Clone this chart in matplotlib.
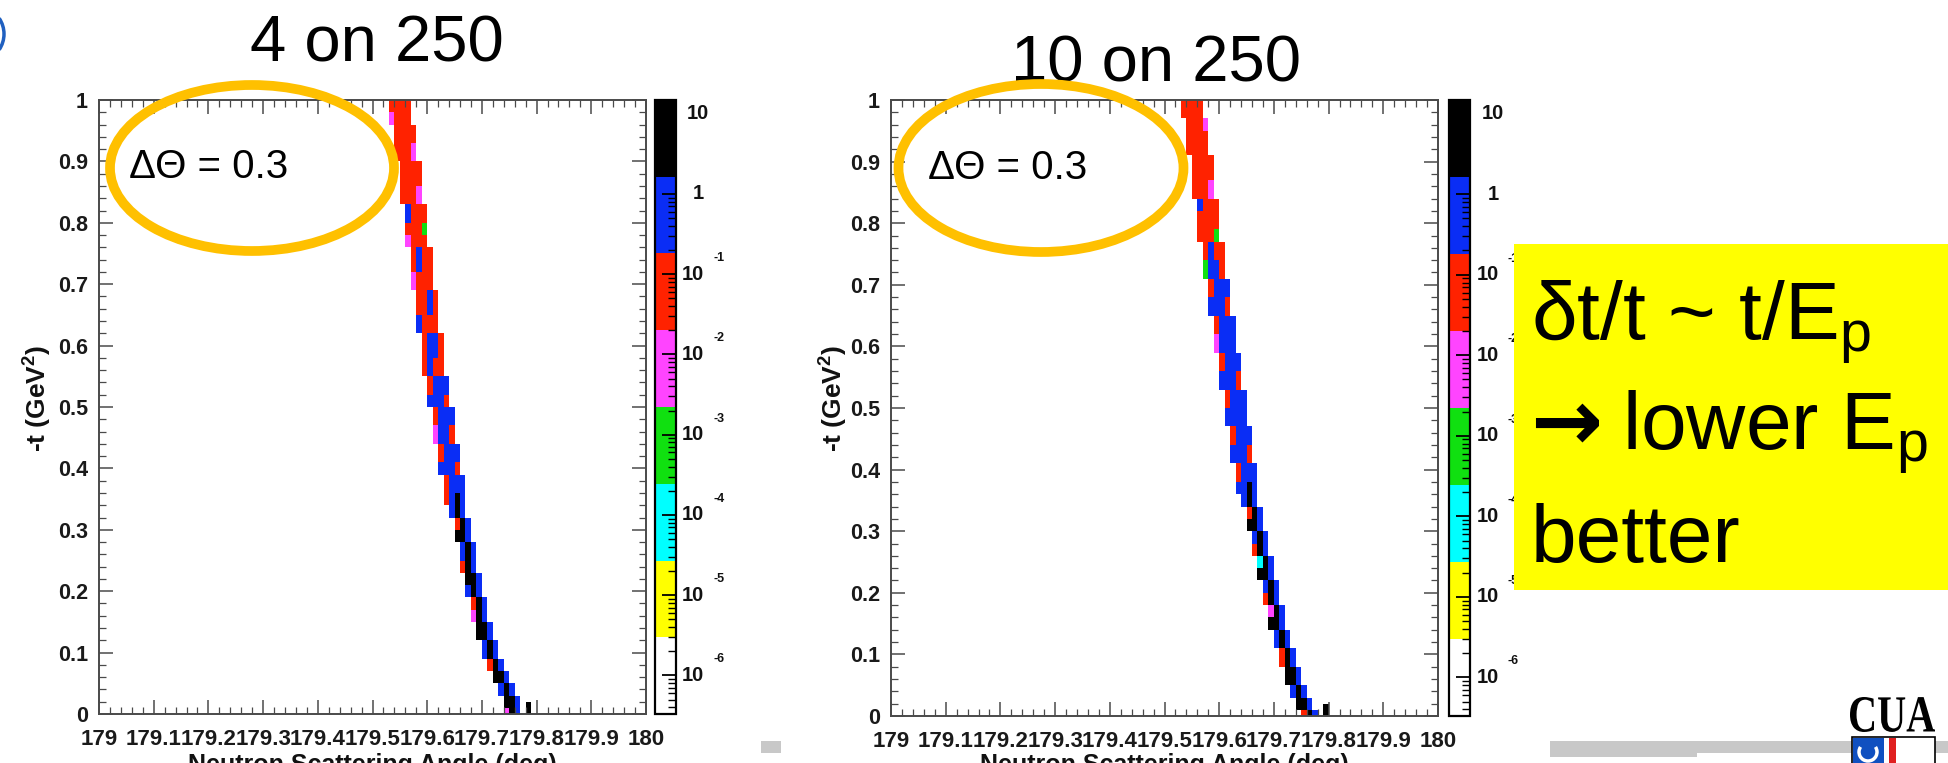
import numpy as np
import matplotlib
matplotlib.use("Agg")
import matplotlib.pyplot as plt
import matplotlib.transforms as mtransforms
from matplotlib.colors import ListedColormap, LogNorm
from matplotlib.patches import Ellipse, Rectangle, Arc, PathPatch
from matplotlib.ticker import FixedLocator, MultipleLocator, LogLocator, NullFormatter
from matplotlib.textpath import TextPath
from matplotlib.font_manager import FontProperties

plt.rcParams['font.family'] = ['Liberation Sans', 'DejaVu Sans']
plt.rcParams['mathtext.fontset'] = 'custom'
plt.rcParams['mathtext.rm'] = 'Liberation Sans'
plt.rcParams['mathtext.it'] = 'Liberation Sans:italic'
plt.rcParams['mathtext.bf'] = 'Liberation Sans:bold'

# ---------------------------------------------------------------- data
panel_titles = ["4 on 250", "10 on 250"]
x_title = "Neutron Scattering Angle (deg)"
y_title = "-t (GeV$^{\\mathregular{2}}$)"
annotation = "\u0394\u0398 = 0.3"

angle_min, angle_max, angle_bin = 179.0, 180.0, 0.01
t_min, t_max, t_bin = 0.0, 1.0, 0.01

x_ticks = [179.0, 179.1, 179.2, 179.3, 179.4, 179.5, 179.6, 179.7, 179.8, 179.9, 180.0]
x_tick_labels = ["179", "179.1", "179.2", "179.3", "179.4", "179.5",
                 "179.6", "179.7", "179.8", "179.9", "180"]
y_ticks = [0.0, 0.1, 0.2, 0.3, 0.4, 0.5, 0.6, 0.7, 0.8, 0.9, 1.0]
y_tick_labels = ["0", "0.1", "0.2", "0.3", "0.4", "0.5", "0.6", "0.7", "0.8", "0.9", "1"]

z_min, z_max = 10 ** -6.48, 10 ** 1.17
z_decades = [1, 0, -1, -2, -3, -4, -5, -6]
palette = ['#FFFFFF', '#FFFF00', '#00FFFF', '#10E010',
           '#FF44FF', '#FF2200', '#0A2DF5', '#000000']
# bin content for each colour code of the histogram rows
level_content = {'1': 9e-6, '2': 8e-5, '3': 7e-4, '4': 6e-3,
                 '5': 6e-2, '6': 0.5, '7': 5.0}

# (t low, t high, first angle bin edge, bin contents as colour codes)
runs_4on250 = [
    (0.98, 1.00, 179.53, "5555"),
    (0.96, 0.98, 179.53, "4555"),
    (0.93, 0.96, 179.54, "5555"),
    (0.90, 0.93, 179.54, "5554"),
    (0.86, 0.90, 179.55, "5555"),
    (0.83, 0.86, 179.55, "5554"),
    (0.80, 0.83, 179.56, "6555"),
    (0.78, 0.80, 179.56, "5553"),
    (0.76, 0.78, 179.56, "4555"),
    (0.72, 0.76, 179.57, "5655"),
    (0.69, 0.72, 179.57, "4555"),
    (0.65, 0.69, 179.58, "5565"),
    (0.62, 0.65, 179.58, "6555"),
    (0.58, 0.62, 179.59, "5665"),
    (0.55, 0.58, 179.59, "5655"),
    (0.52, 0.55, 179.60, "5666"),
    (0.50, 0.52, 179.60, "6665"),
    (0.47, 0.50, 179.61, "5666"),
    (0.44, 0.47, 179.61, "4665"),
    (0.41, 0.44, 179.62, "5666"),
    (0.39, 0.41, 179.62, "6665"),
    (0.36, 0.39, 179.63, "5666"),
    (0.34, 0.36, 179.63, "5676"),
    (0.32, 0.34, 179.64, "676"),
    (0.30, 0.32, 179.65, "576"),
    (0.28, 0.30, 179.65, "776"),
    (0.25, 0.28, 179.66, "676"),
    (0.23, 0.25, 179.66, "576"),
    (0.21, 0.23, 179.67, "776"),
    (0.19, 0.21, 179.67, "676"),
    (0.17, 0.19, 179.68, "576"),
    (0.15, 0.17, 179.68, "476"),
    (0.12, 0.15, 179.69, "776"),
    (0.09, 0.12, 179.70, "676"),
    (0.07, 0.09, 179.71, "576"),
    (0.05, 0.07, 179.72, "776"),
    (0.03, 0.05, 179.73, "676"),
    (0.01, 0.03, 179.74, "776"),
    (0.00, 0.01, 179.74, "476"),
    (0.00, 0.02, 179.78, "7"),
]

runs_10on250 = [
    (0.97, 1.00, 179.53, "5555"),
    (0.95, 0.97, 179.54, "5554"),
    (0.91, 0.95, 179.54, "5555"),
    (0.87, 0.91, 179.55, "5555"),
    (0.84, 0.87, 179.55, "5554"),
    (0.82, 0.84, 179.56, "6555"),
    (0.79, 0.82, 179.56, "5555"),
    (0.77, 0.79, 179.56, "5553"),
    (0.74, 0.77, 179.57, "5655"),
    (0.71, 0.74, 179.57, "3665"),
    (0.68, 0.71, 179.58, "5666"),
    (0.65, 0.68, 179.58, "6665"),
    (0.62, 0.65, 179.59, "5666"),
    (0.59, 0.62, 179.59, "4666"),
    (0.56, 0.59, 179.60, "5666"),
    (0.53, 0.56, 179.60, "6665"),
    (0.50, 0.53, 179.61, "5666"),
    (0.47, 0.50, 179.61, "6666"),
    (0.44, 0.47, 179.62, "5666"),
    (0.41, 0.44, 179.62, "6665"),
    (0.38, 0.41, 179.63, "5666"),
    (0.36, 0.38, 179.63, "6676"),
    (0.34, 0.36, 179.64, "676"),
    (0.32, 0.34, 179.65, "576"),
    (0.30, 0.32, 179.65, "776"),
    (0.28, 0.30, 179.66, "676"),
    (0.26, 0.28, 179.66, "576"),
    (0.24, 0.26, 179.67, "276"),
    (0.22, 0.24, 179.67, "776"),
    (0.20, 0.22, 179.68, "676"),
    (0.18, 0.20, 179.68, "576"),
    (0.16, 0.18, 179.69, "476"),
    (0.14, 0.16, 179.69, "776"),
    (0.11, 0.14, 179.70, "676"),
    (0.08, 0.11, 179.71, "576"),
    (0.05, 0.08, 179.72, "776"),
    (0.03, 0.05, 179.73, "676"),
    (0.01, 0.03, 179.74, "776"),
    (0.00, 0.01, 179.75, "576"),
    (0.00, 0.02, 179.79, "7"),
]

box_lines = ["\u03b4t/t ~ t/E$_{\\mathregular{p}}$", "\u2192", "lower E$_{\\mathregular{p}}$", "better"]

# ---------------------------------------------------------------- figure
W, H = 1949, 763
fig = plt.figure(figsize=(W / 100, H / 100), dpi=100)
fig.patch.set_facecolor('white')


def fx(px):
    return px / W


def fy(py):
    return 1.0 - py / H


cmap = ListedColormap(palette)
norm = LogNorm(vmin=z_min, vmax=z_max)
x_edges = np.arange(angle_min, angle_max + angle_bin / 2, angle_bin)
y_edges = np.arange(t_min, t_max + t_bin / 2, t_bin)


def build_hist(runs):
    grid = np.full((len(y_edges) - 1, len(x_edges) - 1), np.nan)
    for t_lo, t_hi, a0, codes in runs:
        r0 = int(round((t_lo - t_min) / t_bin))
        r1 = int(round((t_hi - t_min) / t_bin))
        k0 = int(round((a0 - angle_min) / angle_bin))
        for j, c in enumerate(codes):
            grid[r0:r1, k0 + j] = level_content[c]
    return np.ma.masked_invalid(grid)


FRAME = '#4a4a4a'
XTICKFONT = dict(family='Liberation Sans', weight='bold', size=16, color='#1a1a1a')
YTICKFONT = dict(family='Liberation Sans', weight='bold', size=15.5, color='#1a1a1a')


def draw_panel(ax_box, cax_box, runs, title, title_xy, ylab_x, lab_dx, sup_dx):
    ax = fig.add_axes(ax_box)
    mesh = ax.pcolormesh(x_edges, y_edges, build_hist(runs), cmap=cmap, norm=norm,
                         shading='flat', edgecolors='none', antialiased=False)
    ax.set_xlim(angle_min, angle_max)
    ax.set_ylim(t_min, t_max)
    ax.xaxis.set_major_locator(FixedLocator(x_ticks))
    ax.yaxis.set_major_locator(FixedLocator(y_ticks))
    ax.set_xticklabels(x_tick_labels, **XTICKFONT)
    ax.set_yticklabels(y_tick_labels, **YTICKFONT)
    ax.xaxis.set_minor_locator(MultipleLocator(0.02))
    ax.yaxis.set_minor_locator(MultipleLocator(0.02))
    ax.tick_params(which='both', direction='in', top=True, right=True, color=FRAME)
    ax.tick_params(which='major', length=10, width=1.1)
    ax.tick_params(which='minor', length=5, width=0.9)
    ax.tick_params(axis='x', pad=11)
    ax.tick_params(axis='y', pad=8)
    for s in ax.spines.values():
        s.set_color(FRAME)
        s.set_linewidth(1.4)

    # colour scale
    cax = fig.add_axes(cax_box)
    cb = fig.colorbar(mesh, cax=cax)
    cb.outline.set_edgecolor('black')
    cb.outline.set_linewidth(1.6)
    cax.yaxis.set_major_locator(FixedLocator([10.0 ** d for d in z_decades]))
    cax.yaxis.set_minor_locator(LogLocator(base=10, subs=np.arange(2, 10)))
    cax.yaxis.set_major_formatter(NullFormatter())
    cax.yaxis.set_minor_formatter(NullFormatter())
    cax.tick_params(which='both', direction='in', right=True, left=False, color='black')
    cax.tick_params(which='major', length=10, width=1.3)
    cax.tick_params(which='minor', length=6, width=1.0)
    base = cax.get_yaxis_transform()
    for d in z_decades:
        if d == 1:
            txt, dx = "10", lab_dx + 5
        elif d == 0:
            txt, dx = "1", lab_dx + 11
        else:
            txt, dx = "10", lab_dx
        tr = mtransforms.offset_copy(base, fig=fig, x=dx, y=0, units='dots')
        cax.text(1.0, 10.0 ** d, txt, transform=tr, ha='left', va='center',
                 family='Liberation Sans', weight='bold', size=14.5, color='#111111',
                 clip_on=False)
        if d < 0:
            tr2 = mtransforms.offset_copy(base, fig=fig, x=sup_dx, y=16, units='dots')
            cax.text(1.0, 10.0 ** d, str(d), transform=tr2, ha='left', va='center',
                     family='Liberation Sans', weight='bold', size=9, color='#111111',
                     clip_on=False)

    # titles and axis titles
    fig.text(fx(title_xy[0]), fy(title_xy[1]), title, ha='center', va='baseline',
             family='Liberation Sans', size=47, color='black')
    pos = ax.get_position()
    fig.text((pos.x0 + pos.x1) / 2, fy(753), x_title, ha='center', va='top',
             family='Liberation Sans', weight='bold', size=18, color='#111111')
    fig.text(fx(ylab_x), fy(398), y_title, ha='center', va='center', rotation=90,
             family='Liberation Sans', weight='bold', size=19, color='#111111')
    return ax


draw_panel([fx(99), fy(714), 547 / W, 614 / H], [fx(655), fy(714), 21 / W, 614 / H],
           runs_4on250, panel_titles[0], (377, 62), 38, 6, 37)
draw_panel([fx(891), fy(716), 547 / W, 616 / H], [fx(1449), fy(716), 21 / W, 616 / H],
           runs_10on250, panel_titles[1], (1156, 81), 834, 7, 38)

# highlighted resolution notes
GOLD = '#FFC000'
for cx, cy, ew, eh, tx, ty in [(252, 168, 284, 166, 129, 178), (1041, 168, 285, 168, 928, 179)]:
    fig.add_artist(Ellipse((fx(cx), fy(cy)), ew / W, eh / H, transform=fig.transFigure,
                           fill=False, edgecolor=GOLD, linewidth=7.0, zorder=4))
    fig.text(fx(tx), fy(ty), annotation, ha='left', va='baseline',
             family='Liberation Sans', size=29, color='black', zorder=4)

# yellow summary box
fig.add_artist(Rectangle((fx(1514), fy(590)), (W - 1514) / W, (590 - 244) / H,
                         transform=fig.transFigure, facecolor='#FFFF00',
                         edgecolor='none', zorder=5))
BOX = dict(family='Liberation Sans', size=59, color='black', zorder=6, va='baseline', ha='left')
fig.text(fx(1531), fy(340), box_lines[0], **BOX)
fig.text(fx(1530), fy(450), box_lines[1], family='DejaVu Sans', weight='bold', size=62,
         color='black', zorder=6, va='baseline', ha='left')
fig.text(fx(1622), fy(450), box_lines[2], **BOX)
fig.text(fx(1531), fy(562), box_lines[3], **BOX)

# slide footer decorations
GREY = '#C8C8C8'
for x0, y0, x1, y1 in [(761, 741, 781, 753), (1550, 741, 1697, 757),
                       (1697, 741, 1852, 753), (1935, 741, 1949, 753)]:
    fig.add_artist(Rectangle((fx(x0), fy(y1)), (x1 - x0) / W, (y1 - y0) / H,
                             transform=fig.transFigure, facecolor=GREY,
                             edgecolor='none', zorder=2))

# university logo
logo_fp = FontProperties(family='Liberation Serif', weight='bold')
tp = TextPath((0, 0), "CUA", size=1, prop=logo_fp)
ext = tp.get_extents()
lx0, lx1, ly0, ly1 = 1850, 1935, 697, 732
tr = (mtransforms.Affine2D().translate(-ext.x0, -ext.y0)
      .scale((lx1 - lx0) / ext.width / W, (ly1 - ly0) / ext.height / H)
      .translate(fx(lx0), fy(ly1)) + fig.transFigure)
fig.add_artist(PathPatch(tp, transform=tr, facecolor='black', edgecolor='none', zorder=6))
fig.add_artist(Rectangle((fx(1852), fy(765)), (1935 - 1852) / W, (765 - 737) / H,
                         transform=fig.transFigure, facecolor='white',
                         edgecolor='black', linewidth=1.2, zorder=6))
fig.add_artist(Rectangle((fx(1853), fy(765)), (1884 - 1853) / W, (765 - 738) / H,
                         transform=fig.transFigure, facecolor='#1050C0',
                         edgecolor='none', zorder=7))
fig.add_artist(Rectangle((fx(1889), fy(765)), (1896 - 1889) / W, (765 - 738) / H,
                         transform=fig.transFigure, facecolor='#E02020',
                         edgecolor='none', zorder=7))
fig.add_artist(Arc((fx(1868), fy(752)), 18 / W, 18 / H, theta1=120, theta2=60,
                   transform=fig.transFigure, color='white', linewidth=2.5, zorder=8))

# corner ornament
fig.add_artist(Arc((fx(-24), fy(34)), 56 / W, 56 / H, theta1=-60, theta2=60,
                   transform=fig.transFigure, color='#2060C0', linewidth=2.5, zorder=3))

fig.savefig('out.png', dpi=100, facecolor='white')
